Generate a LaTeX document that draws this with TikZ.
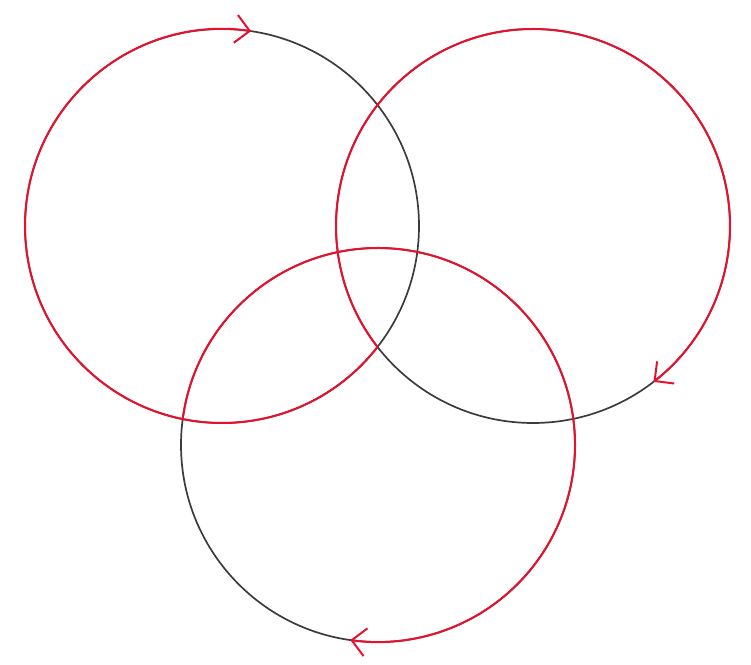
\documentclass[tikz,border=0pt]{standalone}
\usetikzlibrary{arrows.meta}
\definecolor{ringgray}{HTML}{3C3C3C}
\definecolor{pathred}{HTML}{E8112D}
\begin{document}
\begin{tikzpicture}[x=1pt,y=1pt,
  ring/.style={draw=ringgray,line width=1.7pt},
  redarc/.style={draw=pathred,line width=2pt,
    -{Straight Barb[length=14pt,width=28pt,line width=2pt]}},
  ]
  \useasboundingbox (0,0) rectangle (751,664);
  % circle centres
  \coordinate (L) at (222,438);
  \coordinate (R) at (533,438);
  \coordinate (B) at (378,219);
  % the three circles
  \draw[ring] (L) circle[radius=197];
  \draw[ring] (R) circle[radius=197];
  \draw[ring] (B) circle[radius=197];
  % oriented arcs, each starting at an intersection point
  \begin{scope}[xshift=-0.8pt]
    \draw[redarc] ([shift={(-37.88:197)}]L) arc[start angle=-37.88, end angle=-278.5, radius=197];
    \draw[redarc] ([shift={(217.88:197)}]R) arc[start angle=217.88, end angle=-52.3, radius=197];
    \draw[redarc] ([shift={(172.4:197)}]B) arc[start angle=172.4, end angle=-98.1, radius=197];
  \end{scope}
\end{tikzpicture}
\end{document}
